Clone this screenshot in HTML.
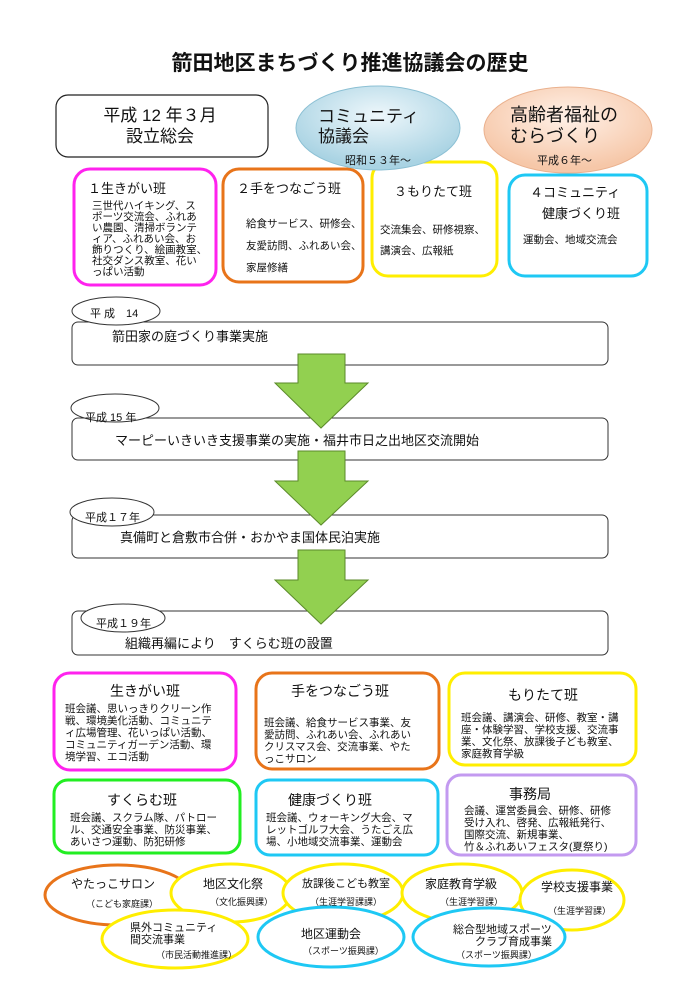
<!DOCTYPE html>
<html><head><meta charset="utf-8"><style>
body{margin:0;background:#fff}
svg{display:block}
text{font-family:"Liberation Sans","Noto Sans CJK JP",sans-serif;fill:#111}
</style></head><body>
<svg width="700" height="1000" viewBox="0 0 700 1000" xmlns="http://www.w3.org/2000/svg">
<defs>
<radialGradient id="gb" cx="50%" cy="35%" r="60%"><stop offset="0" stop-color="#eef7fb"/><stop offset="1" stop-color="#a9d3e3"/></radialGradient>
<radialGradient id="gp" cx="50%" cy="35%" r="60%"><stop offset="0" stop-color="#fff1e8"/><stop offset="1" stop-color="#f6c7a8"/></radialGradient>
</defs>
<text x="350" y="70" text-anchor="middle" font-size="21" font-weight="bold">箭田地区まちづくり推進協議会の歴史</text>

<rect x="56" y="95" width="212" height="62" rx="12" fill="#fff" stroke="#222" stroke-width="1.2"/>
<text x="160" y="121" text-anchor="middle" font-size="17">平成 12 年３月</text>
<text x="160" y="142" text-anchor="middle" font-size="17">設立総会</text>

<rect x="74" y="169" width="142" height="116" rx="16" fill="#fff" stroke="#ff22ee" stroke-width="3"/>
<text x="88" y="193" font-size="13">１生きがい班</text>
<g font-size="10.5"><text x="92" y="209">三世代ハイキング、ス</text><text x="92" y="220">ポーツ交流会、ふれあ</text><text x="92" y="231">い農園、清掃ボランテ</text><text x="92" y="242">ィア、ふれあい会、お</text><text x="92" y="253">飾りつくり、絵画教室、</text><text x="92" y="264">社交ダンス教室、花い</text><text x="92" y="275">っぱい活動</text></g>

<rect x="223" y="169" width="140" height="113" rx="16" fill="#fff" stroke="#e8741a" stroke-width="3"/>
<text x="237" y="193" font-size="13">２手をつなごう班</text>
<g font-size="10.5"><text x="246" y="227">給食サービス、研修会、</text><text x="246" y="249">友愛訪問、ふれあい会、</text><text x="246" y="271">家屋修繕</text></g>

<rect x="372" y="162" width="125" height="114" rx="16" fill="#fff" stroke="#ffee00" stroke-width="3"/>
<text x="394" y="196" font-size="13">３もりたて班</text>
<g font-size="10.5"><text x="380" y="233">交流集会、研修視察、</text><text x="380" y="254">講演会、広報紙</text></g>

<rect x="509" y="175" width="138" height="101" rx="16" fill="#fff" stroke="#1ec8f4" stroke-width="3"/>
<text x="530" y="197" font-size="13">４コミュニティ</text>
<text x="542" y="218" font-size="13">健康づくり班</text>
<text x="523" y="243" font-size="10.5">運動会、地域交流会</text>

<ellipse cx="378" cy="128" rx="82" ry="42" fill="url(#gb)" stroke="#8cc0d4"/>
<text x="318" y="122" font-size="17">コミュニティ</text>
<text x="318" y="142" font-size="17">協議会</text>
<text x="345" y="164" font-size="11">昭和５３年～</text>

<ellipse cx="568" cy="130" rx="84" ry="43" fill="url(#gp)" stroke="#eab18e"/>
<text x="510" y="121" font-size="18">高齢者福祉の</text>
<text x="510" y="142" font-size="18">むらづくり</text>
<text x="537" y="164" font-size="11">平成６年～</text>

<!-- timeline -->
<g fill="#fff" stroke="#333" stroke-width="1">
<rect x="72" y="322" width="536" height="43" rx="6"/>
<rect x="72" y="418" width="536" height="42" rx="6"/>
<rect x="72" y="515" width="536" height="43" rx="6"/>
<rect x="72" y="611" width="536" height="44" rx="6"/>
</g>
<g fill="#fff" stroke="#333" stroke-width="1">
<ellipse cx="116" cy="311" rx="44" ry="14"/>
<ellipse cx="115" cy="408" rx="44" ry="14"/>
<ellipse cx="112" cy="512" rx="42" ry="14"/>
<ellipse cx="123" cy="618" rx="42" ry="14"/>
</g>
<g fill="#92d050" stroke="#5b8a2a" stroke-width="1">
<polygon points="298,354 345,354 345,383 368,383 321,428 275,383 298,383"/>
<polygon points="298,451 345,451 345,481 368,481 321,525 275,481 298,481"/>
<polygon points="298,550 345,550 345,580 368,580 321,624 275,580 298,580"/>
</g>
<g font-size="11"><text x="90" y="317">平 成　14</text><text x="85" y="421">平成 15 年</text><text x="85" y="521">平成１７年</text><text x="96" y="627">平成１９年</text></g>
<g font-size="13"><text x="112" y="341">箭田家の庭づくり事業実施</text><text x="115" y="445">マーピーいきいき支援事業の実施・福井市日之出地区交流開始</text><text x="120" y="542">真備町と倉敷市合併・おかやま国体民泊実施</text><text x="125" y="648">組織再編により　すくらむ班の設置</text></g>

<!-- lower boxes -->
<rect x="54" y="673" width="182" height="97" rx="16" fill="#fff" stroke="#ff22ee" stroke-width="3"/>
<text x="145" y="696" text-anchor="middle" font-size="14">生きがい班</text>
<g font-size="10.5"><text x="65" y="712">班会議、思いっきりクリーン作</text><text x="65" y="724">戦、環境美化活動、コミュニテ</text><text x="65" y="736">ィ広場管理、花いっぱい活動、</text><text x="65" y="748">コミュニティガーデン活動、環</text><text x="65" y="760">境学習、エコ活動</text></g>

<rect x="256" y="673" width="183" height="96" rx="16" fill="#fff" stroke="#e8741a" stroke-width="3"/>
<text x="340" y="696" text-anchor="middle" font-size="14">手をつなごう班</text>
<g font-size="10.5"><text x="264" y="726">班会議、給食サービス事業、友</text><text x="264" y="738">愛訪問、ふれあい会、ふれあい</text><text x="264" y="750">クリスマス会、交流事業、やた</text><text x="264" y="762">っこサロン</text></g>

<rect x="449" y="673" width="187" height="92" rx="16" fill="#fff" stroke="#ffee00" stroke-width="3"/>
<text x="543" y="700" text-anchor="middle" font-size="14">もりたて班</text>
<g font-size="10.5"><text x="461" y="721">班会議、講演会、研修、教室・講</text><text x="461" y="733">座・体験学習、学校支援、交流事</text><text x="461" y="745">業、文化祭、放課後子ども教室、</text><text x="461" y="757">家庭教育学級</text></g>

<rect x="54" y="780" width="186" height="73" rx="14" fill="#fff" stroke="#22ee22" stroke-width="3"/>
<text x="142" y="805" text-anchor="middle" font-size="14">すくらむ班</text>
<g font-size="10.5"><text x="70" y="821">班会議、スクラム隊、パトロー</text><text x="70" y="833">ル、交通安全事業、防災事業、</text><text x="70" y="845">あいさつ運動、防犯研修</text></g>

<rect x="256" y="780" width="182" height="75" rx="14" fill="#fff" stroke="#1ec8f4" stroke-width="3"/>
<text x="330" y="805" text-anchor="middle" font-size="14">健康づくり班</text>
<g font-size="10.5"><text x="266" y="821">班会議、ウォーキング大会、マ</text><text x="266" y="833">レットゴルフ大会、うたごえ広</text><text x="266" y="845">場、小地域交流事業、運動会</text></g>

<rect x="447" y="775" width="189" height="80" rx="14" fill="#fff" stroke="#c39af0" stroke-width="3"/>
<text x="530" y="799" text-anchor="middle" font-size="14">事務局</text>
<g font-size="10.5"><text x="464" y="814">会議、運営委員会、研修、研修</text><text x="464" y="826">受け入れ、啓発、広報紙発行、</text><text x="464" y="838">国際交流、新規事業、</text><text x="464" y="850">竹＆ふれあいフェスタ(夏祭り)</text></g>

<!-- ellipses -->
<g fill="#fff" stroke-width="3">
<ellipse cx="118" cy="895" rx="73" ry="30" stroke="#e8741a"/>
<ellipse cx="231" cy="893" rx="60" ry="29" stroke="#ffee00"/>
<ellipse cx="343" cy="893" rx="60" ry="29" stroke="#ffee00"/>
<ellipse cx="462" cy="893" rx="60" ry="29" stroke="#ffee00"/>
<ellipse cx="572" cy="900" rx="52" ry="30" stroke="#ffee00"/>
<ellipse cx="175" cy="939" rx="73" ry="29" stroke="#ffee00"/>
<ellipse cx="331" cy="937" rx="73" ry="30" stroke="#1ec8f4"/>
<ellipse cx="489" cy="937" rx="76" ry="29" stroke="#1ec8f4"/>
</g>
<g font-size="12"><text x="71" y="888">やたっこサロン</text><text x="203" y="888">地区文化祭</text><text x="461" y="888" text-anchor="middle">家庭教育学級</text><text x="577" y="891" text-anchor="middle">学校支援事業</text><text x="331" y="938" text-anchor="middle">地区運動会</text></g>
<text x="346" y="887" text-anchor="middle" font-size="11">放課後こども教室</text>
<g font-size="9"><text x="86" y="907">（こども家庭課）</text><text x="210" y="905">（文化振興課）</text><text x="310" y="905">（生涯学習課課）</text><text x="440" y="905">（生涯学習課）</text><text x="548" y="914">（生涯学習課）</text><text x="156" y="958">（市民活動推進課）</text><text x="303" y="954">（スポーツ振興課）</text><text x="456" y="958">（スポーツ振興課）</text></g>
<g font-size="11"><text x="130" y="931">県外コミュニティ</text><text x="130" y="943">間交流事業</text><text x="453" y="933">総合型地域スポーツ</text><text x="475" y="945">クラブ育成事業</text></g>
</svg>
</body></html>
